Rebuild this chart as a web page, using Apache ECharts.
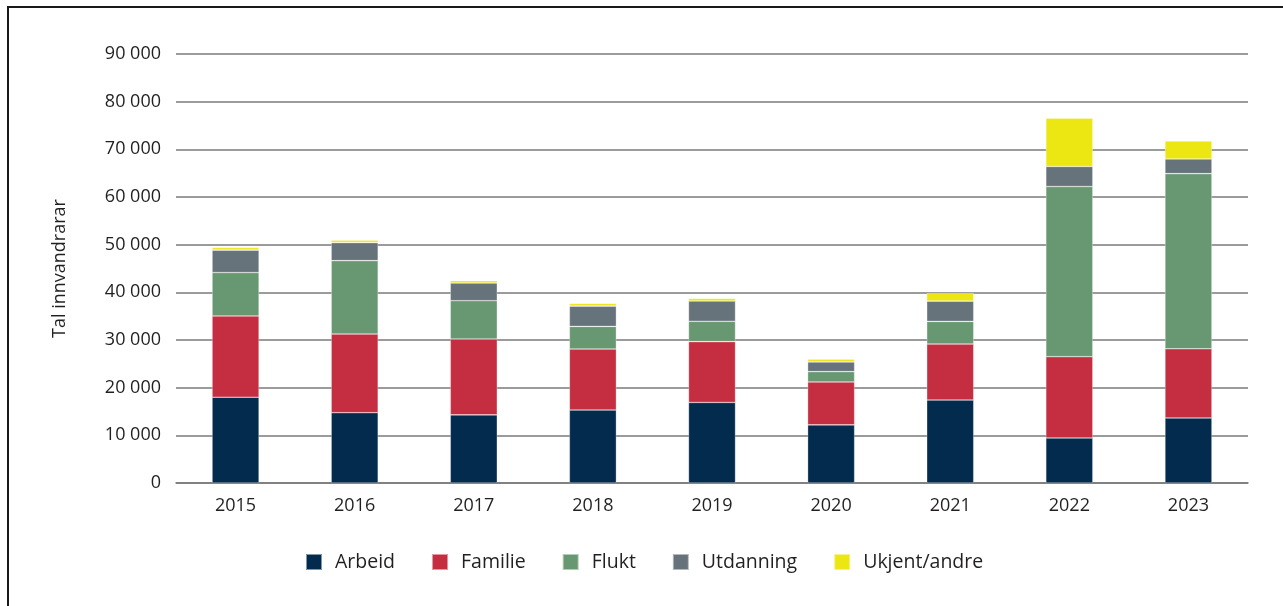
<!DOCTYPE html>
<html>
<head>
<meta charset="utf-8">
<script src="https://cdn.jsdelivr.net/npm/echarts@6/dist/echarts.min.js"></script>
<style>
  html, body { margin: 0; padding: 0; background: #fff; }
  #main { width: 1283px; height: 606px; position: relative; }
  .frame {
    position: absolute; left: 7px; top: 6px; right: 0; bottom: 0;
    border-left: 2px solid #1a1a1a; border-top: 2px solid #1a1a1a;
    pointer-events: none; z-index: 5;
  }
</style>
</head>
<body>
<div id="main"></div>
<div class="frame"></div>
<script>
// år
const years = ['2015', '2016', '2017', '2018', '2019', '2020', '2021', '2022', '2023']

// innvandringsgrunn, lese av frå figuren
const arbeid    = [18000, 14750, 14300, 15300, 16900, 12200, 17400, 9450, 13650]
const familie   = [17050, 16500, 15900, 12800, 12750, 9000, 11750, 17050, 14500]
const flukt     = [9100, 15400, 8050, 4750, 4270, 2170, 4750, 35700, 36750]
const utdanning = [4700, 3780, 3700, 4260, 4260, 2020, 4260, 4200, 3080]
const ukjent    = [550, 500, 500, 560, 560, 560, 1680, 10150, 3780]

const yTicks = [0, 10000, 20000, 30000, 40000, 50000, 60000, 70000, 80000, 90000]

const colors = ['#032b4e', '#c42e40', '#689872', '#67737a', '#ece712']
const names = ['Arbeid', 'Familie', 'Flukt', 'Utdanning', 'Ukjent/andre']
const data = [arbeid, familie, flukt, utdanning, ukjent]

const font = '"Open Sans", sans-serif'
const txt = '#231f20'

const chart = echarts.init(document.getElementById('main'))

const option = {
  animation: false,
  grid: { left: 176, right: 35, top: 54, bottom: 123 },
  legend: {
    data: names,
    top: 547,
    left: 300,
    itemWidth: 16,
    itemHeight: 16,
    itemGap: 36,
    icon: 'rect',
    textStyle: { fontFamily: font, fontSize: 19.5, color: txt, padding: [0, 0, 0, 8] }
  },
  xAxis: {
    type: 'category',
    data: years,
    axisTick: { show: false },
    axisLine: { lineStyle: { color: '#7a7a7a', width: 1.5 } },
    axisLabel: { fontFamily: font, fontSize: 18, color: txt, margin: 14 }
  },
  yAxis: {
    type: 'value',
    min: yTicks[0],
    max: yTicks[yTicks.length - 1],
    interval: 10000,
    name: 'Tal innvandrarar',
    nameLocation: 'middle',
    nameGap: 107,
    nameTextStyle: { fontFamily: font, fontSize: 18, color: txt },
    axisLine: { show: false },
    axisTick: { show: false },
    splitLine: { lineStyle: { color: '#7a7a7a', width: 1.5 } },
    axisLabel: {
      fontFamily: font, fontSize: 18, color: txt, margin: 15,
      formatter: v => v === 0 ? '0' : String(v).replace(/\B(?=(\d{3})+(?!\d))/g, ' ')
    }
  },
  series: names.map((n, i) => ({
    name: n,
    type: 'bar',
    stack: 'total',
    barWidth: 47,
    data: data[i],
    itemStyle: { color: colors[i], borderColor: 'rgba(255,255,255,0.5)', borderWidth: 0.6 }
  }))
}

chart.setOption(option)
</script>
</body>
</html>
